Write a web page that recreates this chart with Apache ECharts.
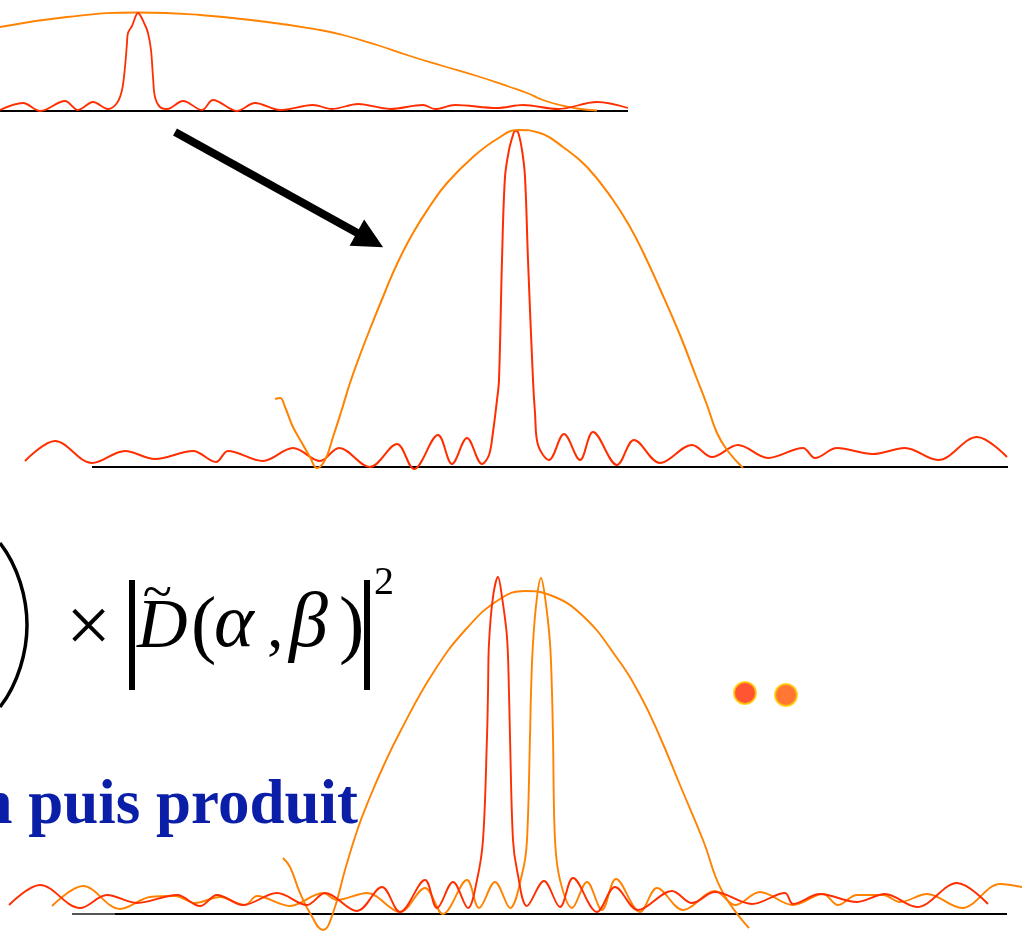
<!DOCTYPE html>
<html><head><meta charset="utf-8">
<script src="https://cdn.jsdelivr.net/npm/echarts@6/dist/echarts.min.js"></script>
<style>html,body{margin:0;padding:0;background:#fff;}#c{width:1022px;height:938px;}</style>
</head><body><div id="c"></div>
<script>
// ---- Panel 1 (top): [x, height above baseline]
const topRed = [[0,1],[23,8],[40,0],[65,10],[78,1],[93,9],[108,2],[117,8],[122,21],[125,44],[127,68],[128,78],[132,85],[138,98],[145,86],[148,78],[151,61],[153,34],[155,14],[160,4],[167,2],[183,10],[202,1],[213,11],[237,0],[255,8],[280,1],[313,6],[332,2],[358,7],[390,2],[423,6],[435,2],[455,6],[497,3],[523,6],[558,2],[597,9],[628,3]];
const topOrange = [[0,84],[67,94],[138,98.5],[200,96],[267,89],[320,81],[343,76],[377,66],[410,55],[443,45],[477,35],[510,24],[527,18],[543,11],[560,6],[577,2.5],[597,0.5]];
const topBase = [[0,0],[628,0]];
// ---- Panel 2 (middle)
const midRed = [[25,6],[55,26],[92,4],[125,16],[155,8],[193,16],[216,5],[228,16],[263,6],[293,19],[320,6],[339,19],[370,0],[397,23],[414,-2],[438,32],[452,3],[467,29],[482,3],[489,12],[493,35],[497,67],[499,87],[502,207],[505,290],[509,317],[513,332],[515,336],[518,335],[522,317],[525,290],[528,207],[533,87],[535,54],[538,22],[549,7],[564,33],[580,7],[593,35],[617,2],[634,27],[660,4],[692,22],[712,10],[738,22],[768,9],[803,19],[815,9],[837,19],[873,13],[905,19],[938,7],[977,30],[1007,10]];
const midOrange = [[275,68],[280,69],[285,60],[293,40],[302,24],[310,10],[317,-1],[325,7],[333,30],[342,58],[350,84],[360,112],[370,138],[385,175],[397,203],[413,234],[430,261],[447,284],[473,310],[497,328],[518,337],[540,334],[563,320],[587,300],[613,267],[630,240],[643,215],[660,178],[680,132],[697,88],[707,62],[717,34],[727,17],[743,-1]];
const midBase = [[92,0],[1008,0]];
const arrowLine = [[175,335],[370,227]];
// ---- Panel 3 (bottom)
const botRed = [[9,8],[40,28],[80,5],[107,18],[137,10],[177,18],[200,7],[217,18],[243,8],[277,20],[307,8],[325,20],[357,2],[382,26],[400,1],[425,33],[437,5],[453,31],[468,5],[477,33],[483,73],[487,176],[488,220],[489,270],[493,316],[498,336],[502,316],[507,276],[509,220],[510,176],[513,73],[517,43],[527,7],[544,32],[560,6],[573,35],[597,1],[615,26],[638,3],[672,22],[692,10],[715,21],[752,9],[785,20],[793,9],[820,19],[857,11],[885,19],[917,6],[957,30],[988,9]];
const botOrange = [[52,7],[83,27],[120,4],[150,16],[175,17],[195,10],[220,16],[245,8],[257,17],[290,7],[323,20],[337,13],[367,20],[400,1],[425,25],[443,-1],[467,33],[479,5],[495,31],[510,5],[523,43],[527,73],[530,176],[531,220],[533,270],[537,316],[541,335],[545,316],[550,270],[552,220],[553,176],[555,73],[560,33],[572,5],[587,31],[602,3],[616,34],[640,1],[657,25],[683,3],[715,22],[735,8],[760,21],[793,8],[823,19],[838,8],[857,18],[883,18],[900,11],[927,19],[962,5],[1000,29],[1022,26]];
const botArch = [[283,55],[290,46],[300,20],[310,0],[323,-17],[333,0],[345,43],[358,85],[370,116],[383,146],[400,181],[433,240],[467,285],[500,314],[525,322],[550,318],[583,297],[617,255],[640,218],[660,176],[680,128],[703,73],[722,22],[749,-15]];
const botBaseA = [[72,-1],[988,-1]];
const botBaseB = [[115,-1],[1007,-1]];
const dotRed = [[745,220]];
const dotOrange = [[786,218]];

const RED = '#FF2E00', ORANGE = '#FF8200';
const chart = echarts.init(document.getElementById('c'), null, {renderer:'canvas'});

function xa(i){return {type:'value', gridIndex:i, min:0, max:1022, show:false};}
function ya(i,min,max){return {type:'value', gridIndex:i, min:min, max:max, show:false};}
function ln(data, i, color, width, extra){
  return Object.assign({type:'line', xAxisIndex:i, yAxisIndex:i, data:data, showSymbol:false, symbol:'none',
    smooth:0.35, clip:false, silent:true,
    lineStyle:{color:color, width:width}}, extra||{});
}
const serif = '"Liberation Serif","Times New Roman",serif';
function txt(t, x, base, size, style, extra){
  return Object.assign({type:'text', x:x, y:base - 0.3375*size, silent:true,
    style:{text:t, font:style+' '+size+'px '+serif, fill:'#000', textAlign:'left', align:'left', textVerticalAlign:'middle', verticalAlign:'middle'}}, extra||{});
}

chart.setOption({
  animation:false,
  backgroundColor:'#fff',
  grid:[
    {left:0, right:0, top:11, height:105},
    {left:0, right:0, top:127, height:352},
    {left:0, right:0, top:573, height:365}
  ],
  xAxis:[xa(0),xa(1),xa(2)],
  yAxis:[ya(0,-5,100), ya(1,-12,340), ya(2,-25,340)],
  series:[
    ln(topBase,0,'#000',2,{smooth:false}),
    ln(topOrange,0,ORANGE,1.8,{smooth:0.5}),
    ln(topRed,0,RED,1.8),
    ln(midBase,1,'#000',2,{smooth:false, markLine:{silent:true, animation:false, symbol:['none','triangle'], symbolSize:30,
      label:{show:false}, lineStyle:{color:'#000', width:8, type:'solid'},
      data:[[{coord:arrowLine[0]},{coord:arrowLine[1]}]]}}),
    ln(midRed,1,RED,2),
    ln(midOrange,1,ORANGE,2,{smooth:0.45}),
    ln(botBaseA,2,'#555',2,{smooth:false}),
    ln(botBaseB,2,'#000',2,{smooth:false}),
    ln(botArch,2,ORANGE,1.9,{smooth:0.45}),
    ln(botOrange,2,ORANGE,1.9),
    ln(botRed,2,RED,1.9),
    {type:'scatter', xAxisIndex:2, yAxisIndex:2, data:dotRed, symbolSize:22, silent:true,
      itemStyle:{color:'#FF2A00', borderColor:'#FFD000', borderWidth:2}},
    {type:'scatter', xAxisIndex:2, yAxisIndex:2, data:dotOrange, symbolSize:22, silent:true,
      itemStyle:{color:'#FF5500', borderColor:'#FFD000', borderWidth:2}}
  ],
  graphic:[
    {type:'bezierCurve', silent:true, shape:{x1:0,y1:543,cpx1:18,cpy1:566,cpx2:27,cpy2:598,x2:27,y2:625}, style:{stroke:'#000', lineWidth:3.5, fill:null}},
    {type:'bezierCurve', silent:true, shape:{x1:27,y1:625,cpx1:27,cpy1:652,cpx2:18,cpy2:684,x2:0,y2:707}, style:{stroke:'#000', lineWidth:3.5, fill:null}},
    txt('\u00D7', 66, 658, 80, 'normal'),
    {type:'rect', silent:true, shape:{x:129,y:580,width:6,height:110}, style:{fill:'#000'}},
    {type:'rect', silent:true, shape:{x:364,y:580,width:6,height:110}, style:{fill:'#000'}},
    txt('D', 137, 652, 70, 'italic'),
    txt('~', 142, 614, 54, 'italic'),
    txt('(', 191, 655, 76, 'normal'),
    txt('\u03B1', 214, 652, 76, 'italic'),
    txt(',', 267, 652, 66, 'normal'),
    txt('\u03B2', 289, 652, 78, 'italic'),
    txt(')', 339, 655, 76, 'normal'),
    txt('2', 374, 597, 40, 'normal'),
    {type:'text', x:358, y:828 - 0.3375*63, silent:true, style:{text:'n puis produit', font:'bold 63px '+serif, fill:'#0A1EA8', textAlign:'right', align:'right', textVerticalAlign:'middle', verticalAlign:'middle'}}
  ]
});
</script>
</body></html>
